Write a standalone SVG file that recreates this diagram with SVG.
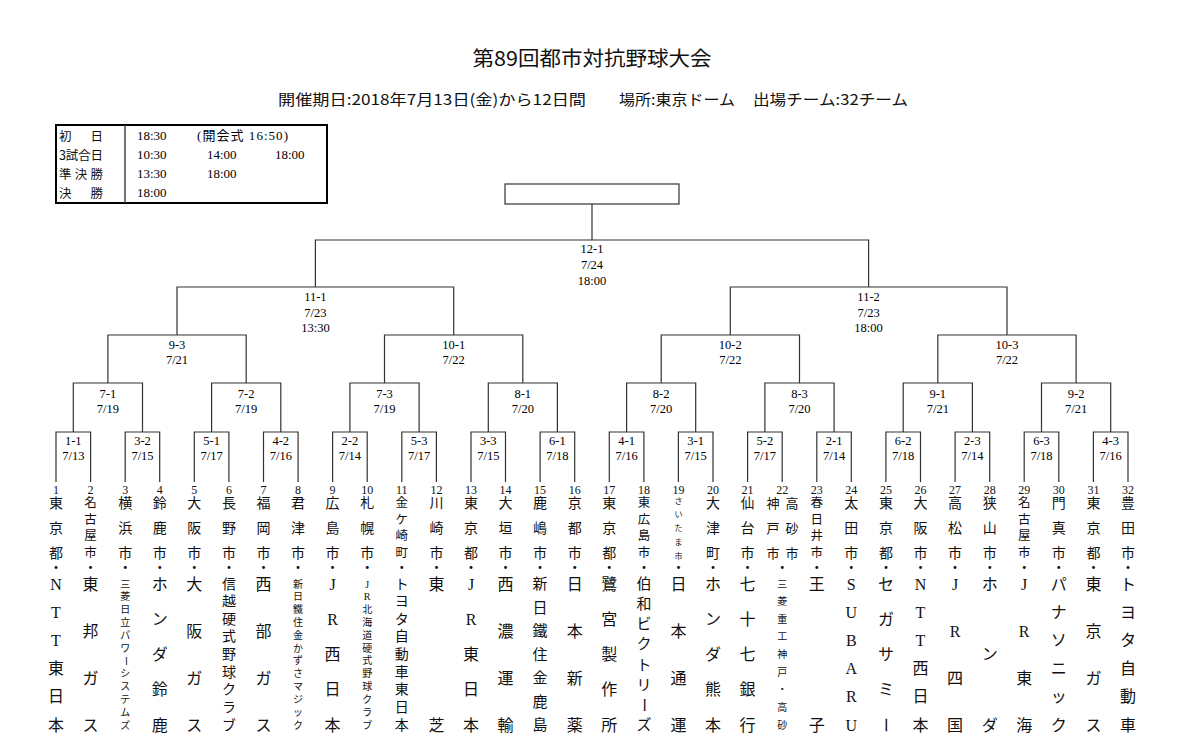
<svg xmlns="http://www.w3.org/2000/svg" width="1180" height="741" viewBox="0 0 1180 741">
<style>
.ln{fill:none;stroke:#333;stroke-width:1.2}
.lb{font-family:"Liberation Serif","Noto Sans CJK JP",serif;font-size:12.5px;text-anchor:middle;dominant-baseline:central;fill:#000}
.v{font-family:"Liberation Serif","Noto Sans CJK JP",sans-serif;text-anchor:middle;dominant-baseline:central;fill:#111}
.g{font-family:"Noto Sans CJK JP",sans-serif;fill:#111}
.tm{font-family:"Liberation Serif","Noto Sans CJK JP",serif;font-size:13px;dominant-baseline:central;fill:#000}
.s8{font-size:8px}.s10{font-size:10px}.s12{font-size:12.5px}.s13{font-size:13px}.s14{font-size:14px}.s15{font-size:15px}.s16{font-size:16px}
.n{font-size:12px}
</style>
<rect width="1180" height="741" fill="#fff"/>
<g id="header">
<text class="g" x="592" y="57" font-size="20" text-anchor="middle" dominant-baseline="central" textLength="239" lengthAdjust="spacingAndGlyphs">第89回都市対抗野球大会</text>
<text class="g" x="278" y="98" font-size="15" dominant-baseline="central" textLength="308" lengthAdjust="spacingAndGlyphs">開催期日:2018年7月13日(金)から12日間</text>
<text class="g" x="619" y="98" font-size="15" dominant-baseline="central" textLength="116" lengthAdjust="spacingAndGlyphs">場所:東京ドーム</text>
<text class="g" x="753" y="98" font-size="15" dominant-baseline="central" textLength="155" lengthAdjust="spacingAndGlyphs">出場チーム:32チーム</text>
</g>
<g id="schedule">
<rect x="56" y="125" width="271" height="78" fill="none" stroke="#000" stroke-width="2"/>
<line x1="125" y1="125" x2="125" y2="203" stroke="#444" stroke-width="1.5"/>
<text class="g" x="59" y="135" font-size="12.5" dominant-baseline="central" textLength="44" lengthAdjust="spacing">初日</text>
<text class="g" x="59" y="154" font-size="12.5" dominant-baseline="central" textLength="44" lengthAdjust="spacing">3試合日</text>
<text class="g" x="59" y="173" font-size="12.5" dominant-baseline="central" textLength="44" lengthAdjust="spacing">準決勝</text>
<text class="g" x="59" y="192" font-size="12.5" dominant-baseline="central" textLength="44" lengthAdjust="spacing">決勝</text>
<text class="tm" x="137" y="135">18:30</text>
<text class="tm" x="197" y="135" textLength="91" lengthAdjust="spacing">(開会式  16:50)</text>
<text class="tm" x="137" y="154">10:30</text>
<text class="tm" x="207" y="154">14:00</text>
<text class="tm" x="275" y="154">18:00</text>
<text class="tm" x="137" y="173">13:30</text>
<text class="tm" x="207" y="173">18:00</text>
<text class="tm" x="137" y="192">18:00</text>
</g>
<g id="connectors" class="ln">
<path d="M56 482V432H90.6V482M125.2 482V432H159.7V482M194.3 482V432H228.9V482M263.5 482V432H298.1V482M332.6 482V432H367.2V482M401.8 482V432H436.4V482M471 482V432H505.5V482M540.1 482V432H574.7V482M609.3 482V432H643.9V482M678.4 482V432H713V482M747.6 482V432H782.2V482M816.8 482V432H851.3V482M885.9 482V432H920.5V482M955.1 482V432H989.7V482M1024.2 482V432H1058.8V482M1093.4 482V432H1128V482"/>
<path d="M73.3 432V383H142.5V432M211.6 432V383H280.8V432M349.9 432V383H419.1V432M488.3 432V383H557.4V432M626.6 432V383H695.7V432M764.9 432V383H834.1V432M903.2 432V383H972.4V432M1041.5 432V383H1110.7V432"/>
<path d="M107.9 383V335H246.2V383M384.5 383V335H522.8V383M661.2 383V335H799.5V383M937.8 383V335H1076.1V383"/>
<path d="M177 335V287H453.7V335M730.3 335V287H1007V335"/>
<path d="M315.4 287V240H868.6V287M592 240V204"/>
</g>
<g id="final-box"><rect x="505" y="184" width="174" height="20" fill="none" stroke="#333" stroke-width="1.2"/></g>
<g id="m12-1"><text class="lb" x="592" y="249">12-1</text><text class="lb" x="592" y="265">7/24</text><text class="lb" x="592" y="281">18:00</text></g>
<g id="m11-1"><text class="lb" x="315.4" y="297">11-1</text><text class="lb" x="315.4" y="313">7/23</text><text class="lb" x="315.4" y="328">13:30</text></g>
<g id="m11-2"><text class="lb" x="868.6" y="297">11-2</text><text class="lb" x="868.6" y="313">7/23</text><text class="lb" x="868.6" y="328">18:00</text></g>
<g id="m9-3"><text class="lb" x="177" y="345">9-3</text><text class="lb" x="177" y="360">7/21</text></g>
<g id="m10-1"><text class="lb" x="453.7" y="345">10-1</text><text class="lb" x="453.7" y="360">7/22</text></g>
<g id="m10-2"><text class="lb" x="730.3" y="345">10-2</text><text class="lb" x="730.3" y="360">7/22</text></g>
<g id="m10-3"><text class="lb" x="1007" y="345">10-3</text><text class="lb" x="1007" y="360">7/22</text></g>
<g id="m7-1"><text class="lb" x="107.9" y="394">7-1</text><text class="lb" x="107.9" y="409">7/19</text></g>
<g id="m7-2"><text class="lb" x="246.2" y="394">7-2</text><text class="lb" x="246.2" y="409">7/19</text></g>
<g id="m7-3"><text class="lb" x="384.5" y="394">7-3</text><text class="lb" x="384.5" y="409">7/19</text></g>
<g id="m8-1"><text class="lb" x="522.8" y="394">8-1</text><text class="lb" x="522.8" y="409">7/20</text></g>
<g id="m8-2"><text class="lb" x="661.2" y="394">8-2</text><text class="lb" x="661.2" y="409">7/20</text></g>
<g id="m8-3"><text class="lb" x="799.5" y="394">8-3</text><text class="lb" x="799.5" y="409">7/20</text></g>
<g id="m9-1"><text class="lb" x="937.8" y="394">9-1</text><text class="lb" x="937.8" y="409">7/21</text></g>
<g id="m9-2"><text class="lb" x="1076.1" y="394">9-2</text><text class="lb" x="1076.1" y="409">7/21</text></g>
<g id="m1-1"><text class="lb" x="73.3" y="441">1-1</text><text class="lb" x="73.3" y="456">7/13</text></g>
<g id="m3-2"><text class="lb" x="142.5" y="441">3-2</text><text class="lb" x="142.5" y="456">7/15</text></g>
<g id="m5-1"><text class="lb" x="211.6" y="441">5-1</text><text class="lb" x="211.6" y="456">7/17</text></g>
<g id="m4-2"><text class="lb" x="280.8" y="441">4-2</text><text class="lb" x="280.8" y="456">7/16</text></g>
<g id="m2-2"><text class="lb" x="349.9" y="441">2-2</text><text class="lb" x="349.9" y="456">7/14</text></g>
<g id="m5-3"><text class="lb" x="419.1" y="441">5-3</text><text class="lb" x="419.1" y="456">7/17</text></g>
<g id="m3-3"><text class="lb" x="488.3" y="441">3-3</text><text class="lb" x="488.3" y="456">7/15</text></g>
<g id="m6-1"><text class="lb" x="557.4" y="441">6-1</text><text class="lb" x="557.4" y="456">7/18</text></g>
<g id="m4-1"><text class="lb" x="626.6" y="441">4-1</text><text class="lb" x="626.6" y="456">7/16</text></g>
<g id="m3-1"><text class="lb" x="695.7" y="441">3-1</text><text class="lb" x="695.7" y="456">7/15</text></g>
<g id="m5-2"><text class="lb" x="764.9" y="441">5-2</text><text class="lb" x="764.9" y="456">7/17</text></g>
<g id="m2-1"><text class="lb" x="834.1" y="441">2-1</text><text class="lb" x="834.1" y="456">7/14</text></g>
<g id="m6-2"><text class="lb" x="903.2" y="441">6-2</text><text class="lb" x="903.2" y="456">7/18</text></g>
<g id="m2-3"><text class="lb" x="972.4" y="441">2-3</text><text class="lb" x="972.4" y="456">7/14</text></g>
<g id="m6-3"><text class="lb" x="1041.5" y="441">6-3</text><text class="lb" x="1041.5" y="456">7/18</text></g>
<g id="m4-3"><text class="lb" x="1110.7" y="441">4-3</text><text class="lb" x="1110.7" y="456">7/16</text></g>

<g id="team1"><text class="v n" x="56" y="490">1</text><text class="v s14" x="56 56 56 56" y="503 528 553 567">東京都・</text><text class="v s16" x="56 56 56 56 56 56" y="584 612.2 640.4 668.6 696.8 725">NTT東日本</text></g>
<g id="team2"><text class="v n" x="90.6" y="490">2</text><text class="v s12" x="90.6 90.6 90.6 90.6" y="503 519.7 536.3 553">名古屋市</text><text class="v s14" x="90.6" y="567">・</text><text class="v s16" x="90.6 90.6 90.6 90.6" y="584 631 678 725">東邦ガス</text></g>
<g id="team3"><text class="v n" x="125.2" y="490">3</text><text class="v s14" x="125.2 125.2 125.2 125.2" y="503 528 553 567">横浜市・</text><text class="v s10" x="125.2 125.2 125.2 125.2 125.2 125.2" y="584 596.8 609.6 622.5 635.3 648.1">三菱日立パワ</text><text class="v s10" x="125.2" y="660.9" transform="rotate(90 125.2 660.9)">ー</text><text class="v s10" x="125.2 125.2 125.2 125.2 125.2" y="673.7 686.5 699.4 712.2 725">システムズ</text></g>
<g id="team4"><text class="v n" x="159.7" y="490">4</text><text class="v s14" x="159.7 159.7 159.7 159.7" y="503 528 553 567">鈴鹿市・</text><text class="v s16" x="159.7 159.7 159.7 159.7 159.7" y="584 619.3 654.5 689.8 725">ホンダ鈴鹿</text></g>
<g id="team5"><text class="v n" x="194.3" y="490">5</text><text class="v s14" x="194.3 194.3 194.3 194.3" y="503 528 553 567">大阪市・</text><text class="v s16" x="194.3 194.3 194.3 194.3" y="584 631 678 725">大阪ガス</text></g>
<g id="team6"><text class="v n" x="228.9" y="490">6</text><text class="v s14" x="228.9 228.9 228.9 228.9" y="503 528 553 567">長野市・</text><text class="v s14" x="228.9 228.9 228.9 228.9 228.9 228.9 228.9 228.9 228.9" y="584 601.6 619.3 636.9 654.5 672.1 689.8 707.4 725">信越硬式野球クラブ</text></g>
<g id="team7"><text class="v n" x="263.5" y="490">7</text><text class="v s14" x="263.5 263.5 263.5 263.5" y="503 528 553 567">福岡市・</text><text class="v s16" x="263.5 263.5 263.5 263.5" y="584 631 678 725">西部ガス</text></g>
<g id="team8"><text class="v n" x="298.1" y="490">8</text><text class="v s14" x="298.1 298.1 298.1 298.1" y="503 528 553 567">君津市・</text><text class="v s10" x="298.1 298.1 298.1 298.1 298.1 298.1 298.1 298.1 298.1 298.1 298.1 298.1" y="584 596.8 609.6 622.5 635.3 648.1 660.9 673.7 686.5 699.4 712.2 725">新日鐵住金かずさマジック</text></g>
<g id="team9"><text class="v n" x="332.6" y="490">9</text><text class="v s14" x="332.6 332.6 332.6 332.6" y="503 528 553 567">広島市・</text><text class="v s16" x="332.6 332.6 332.6 332.6 332.6" y="584 619.3 654.5 689.8 725">JR西日本</text></g>
<g id="team10"><text class="v n" x="367.2" y="490">10</text><text class="v s14" x="367.2 367.2 367.2 367.2" y="503 528 553 567">札幌市・</text><text class="v s10" x="367.2 367.2 367.2 367.2 367.2 367.2 367.2 367.2 367.2 367.2 367.2 367.2" y="584 596.8 609.6 622.5 635.3 648.1 660.9 673.7 686.5 699.4 712.2 725">JR北海道硬式野球クラブ</text></g>
<g id="team11"><text class="v n" x="401.8" y="490">11</text><text class="v s12" x="401.8 401.8 401.8 401.8" y="503 519.7 536.3 553">金ケ崎町</text><text class="v s14" x="401.8" y="567">・</text><text class="v s14" x="401.8 401.8 401.8 401.8 401.8 401.8 401.8 401.8 401.8" y="584 601.6 619.3 636.9 654.5 672.1 689.8 707.4 725">トヨタ自動車東日本</text></g>
<g id="team12"><text class="v n" x="436.4" y="490">12</text><text class="v s14" x="436.4 436.4 436.4 436.4" y="503 528 553 567">川崎市・</text><text class="v s16" x="436.4 436.4" y="584 725">東芝</text></g>
<g id="team13"><text class="v n" x="471" y="490">13</text><text class="v s14" x="471 471 471 471" y="503 528 553 567">東京都・</text><text class="v s16" x="471 471 471 471 471" y="584 619.3 654.5 689.8 725">JR東日本</text></g>
<g id="team14"><text class="v n" x="505.5" y="490">14</text><text class="v s14" x="505.5 505.5 505.5 505.5" y="503 528 553 567">大垣市・</text><text class="v s16" x="505.5 505.5 505.5 505.5" y="584 631 678 725">西濃運輸</text></g>
<g id="team15"><text class="v n" x="540.1" y="490">15</text><text class="v s14" x="540.1 540.1 540.1 540.1" y="503 528 553 567">鹿嶋市・</text><text class="v s15" x="540.1 540.1 540.1 540.1 540.1 540.1 540.1" y="584 607.5 631 654.5 678 701.5 725">新日鐵住金鹿島</text></g>
<g id="team16"><text class="v n" x="574.7" y="490">16</text><text class="v s14" x="574.7 574.7 574.7 574.7" y="503 528 553 567">京都市・</text><text class="v s16" x="574.7 574.7 574.7 574.7" y="584 631 678 725">日本新薬</text></g>
<g id="team17"><text class="v n" x="609.3" y="490">17</text><text class="v s14" x="609.3 609.3 609.3 609.3" y="503 528 553 567">東京都・</text><text class="v s16" x="609.3 609.3 609.3 609.3 609.3" y="584 619.3 654.5 689.8 725">鷺宮製作所</text></g>
<g id="team18"><text class="v n" x="643.9" y="490">18</text><text class="v s12" x="643.9 643.9 643.9 643.9" y="503 519.7 536.3 553">東広島市</text><text class="v s14" x="643.9" y="567">・</text><text class="v s15" x="643.9 643.9 643.9 643.9 643.9 643.9" y="584 604.1 624.3 644.4 664.6 684.7">伯和ビクトリ</text><text class="v s15" x="643.9" y="704.9" transform="rotate(90 643.9 704.9)">ー</text><text class="v s15" x="643.9" y="725">ズ</text></g>
<g id="team19"><text class="v n" x="678.4" y="490">19</text><text class="v s8" x="678.4 678.4 678.4 678.4 678.4" y="501 514.8 528.5 542.3 556">さいたま市</text><text class="v s14" x="678.4" y="567">・</text><text class="v s16" x="678.4 678.4 678.4 678.4" y="584 631 678 725">日本通運</text></g>
<g id="team20"><text class="v n" x="713" y="490">20</text><text class="v s14" x="713 713 713 713" y="503 528 553 567">大津町・</text><text class="v s16" x="713 713 713 713 713" y="584 619.3 654.5 689.8 725">ホンダ熊本</text></g>
<g id="team21"><text class="v n" x="747.6" y="490">21</text><text class="v s14" x="747.6 747.6 747.6 747.6" y="503 528 553 567">仙台市・</text><text class="v s16" x="747.6 747.6 747.6 747.6 747.6" y="584 619.3 654.5 689.8 725">七十七銀行</text></g>
<g id="team22"><text class="v n" x="782.2" y="490">22</text><text class="v s13" x="773 773 773" y="503 528 553">神戸市</text><text class="v s13" x="792 792 792" y="503 528 553">高砂市</text><text class="v s14" x="782.2" y="567">・</text><text class="v s10" x="782.2 782.2 782.2 782.2 782.2 782.2 782.2 782.2 782.2" y="584 601.6 619.3 636.9 654.5 672.1 689.8 707.4 725">三菱重工神戸・高砂</text></g>
<g id="team23"><text class="v n" x="816.8" y="490">23</text><text class="v s12" x="816.8 816.8 816.8 816.8" y="503 519.7 536.3 553">春日井市</text><text class="v s14" x="816.8" y="567">・</text><text class="v s16" x="816.8 816.8" y="584 725">王子</text></g>
<g id="team24"><text class="v n" x="851.3" y="490">24</text><text class="v s14" x="851.3 851.3 851.3 851.3" y="503 528 553 567">太田市・</text><text class="v s16" x="851.3 851.3 851.3 851.3 851.3 851.3" y="584 612.2 640.4 668.6 696.8 725">SUBARU</text></g>
<g id="team25"><text class="v n" x="885.9" y="490">25</text><text class="v s14" x="885.9 885.9 885.9 885.9" y="503 528 553 567">東京都・</text><text class="v s16" x="885.9 885.9 885.9 885.9" y="584 619.3 654.5 689.8">セガサミ</text><text class="v s16" x="885.9" y="725" transform="rotate(90 885.9 725)">ー</text></g>
<g id="team26"><text class="v n" x="920.5" y="490">26</text><text class="v s14" x="920.5 920.5 920.5 920.5" y="503 528 553 567">大阪市・</text><text class="v s16" x="920.5 920.5 920.5 920.5 920.5 920.5" y="584 612.2 640.4 668.6 696.8 725">NTT西日本</text></g>
<g id="team27"><text class="v n" x="955.1" y="490">27</text><text class="v s14" x="955.1 955.1 955.1 955.1" y="503 528 553 567">高松市・</text><text class="v s16" x="955.1 955.1 955.1 955.1" y="584 631 678 725">JR四国</text></g>
<g id="team28"><text class="v n" x="989.7" y="490">28</text><text class="v s14" x="989.7 989.7 989.7 989.7" y="503 528 553 567">狭山市・</text><text class="v s16" x="989.7 989.7 989.7" y="584 654.5 725">ホンダ</text></g>
<g id="team29"><text class="v n" x="1024.2" y="490">29</text><text class="v s12" x="1024.2 1024.2 1024.2 1024.2" y="503 519.7 536.3 553">名古屋市</text><text class="v s14" x="1024.2" y="567">・</text><text class="v s16" x="1024.2 1024.2 1024.2 1024.2" y="584 631 678 725">JR東海</text></g>
<g id="team30"><text class="v n" x="1058.8" y="490">30</text><text class="v s14" x="1058.8 1058.8 1058.8 1058.8" y="503 528 553 567">門真市・</text><text class="v s16" x="1058.8 1058.8 1058.8 1058.8 1058.8 1058.8" y="584 612.2 640.4 668.6 696.8 725">パナソニック</text></g>
<g id="team31"><text class="v n" x="1093.4" y="490">31</text><text class="v s14" x="1093.4 1093.4 1093.4 1093.4" y="503 528 553 567">東京都・</text><text class="v s16" x="1093.4 1093.4 1093.4 1093.4" y="584 631 678 725">東京ガス</text></g>
<g id="team32"><text class="v n" x="1128" y="490">32</text><text class="v s14" x="1128 1128 1128 1128" y="503 528 553 567">豊田市・</text><text class="v s16" x="1128 1128 1128 1128 1128 1128" y="584 612.2 640.4 668.6 696.8 725">トヨタ自動車</text></g>
</svg>
